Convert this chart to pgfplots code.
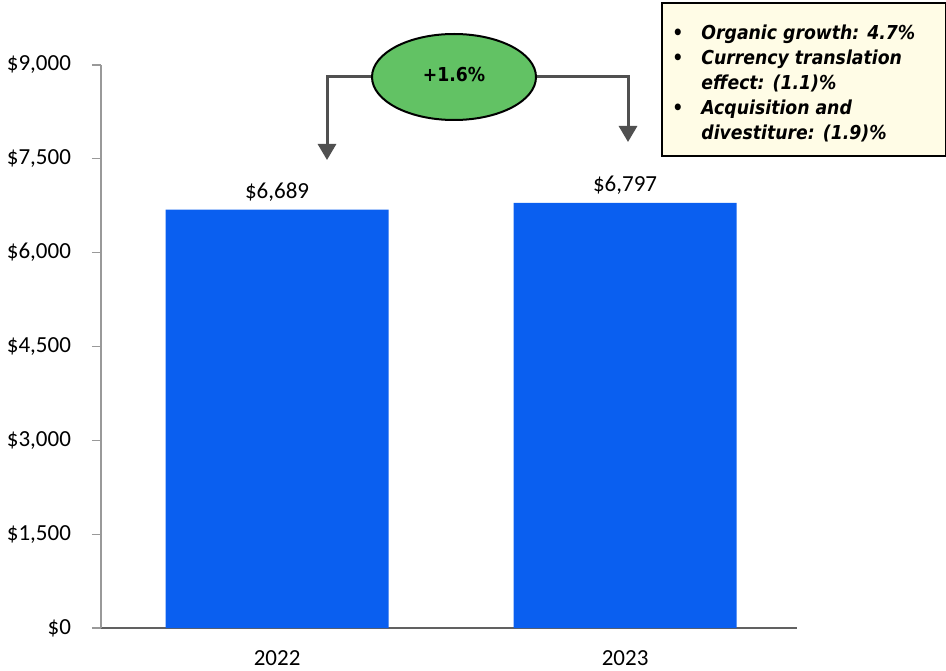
\documentclass[border=0pt]{standalone}
\usepackage{fontspec}
\setmainfont{Carlito}
\newfontfamily\boxfont{DejaVu Sans Condensed}
\usepackage{pgfplots}
\pgfplotsset{compat=1.18}
\usetikzlibrary{arrows.meta}
\definecolor{barblue}{HTML}{0A5FF0}
\definecolor{ovalgreen}{HTML}{62C264}
\definecolor{arrowgray}{HTML}{505050}
\definecolor{boxcream}{HTML}{FFFCE6}
\begin{document}
\begin{tikzpicture}
% whole picture = 946 x 670 px, 1 px = 0.5pt, origin at the axis corner (101,628)
\path[use as bounding box] (-50.5pt,-21pt) rectangle (422.5pt,314pt);
\begin{axis}[
    at={(0pt,0pt)}, anchor=south west,
    scale only axis,
    width=348pt, height=281.5pt,
    xmin=-0.506, xmax=1.494,
    ymin=0, ymax=9000,
    axis x line*=bottom,
    axis y line*=left,
    x axis line style={draw=black!62, line width=1pt},
    y axis line style={draw=black!40, line width=0.6pt},
    ytick={0,1500,...,9000},
    xtick=data,
    xticklabels={2022,2023},
    x tick style={draw=none},
    y tick style={draw=black!40, line width=0.6pt},
    tick align=outside,
    major tick length=4.5pt,
    /pgf/number format/.cd, 1000 sep={,}, assume math mode=true,
    /pgfplots/.cd,
    yticklabel={\$\pgfmathprintnumber{\tick}},
    ticklabel style={font=\fontsize{11.5}{13}\selectfont},
    yticklabel style={xshift=-7pt},
    xticklabel style={yshift=-3pt},
    ybar, bar width=111.5pt,
    nodes near coords={\$\pgfmathprintnumber{\pgfplotspointmeta}},
    nodes near coords style={font=\fontsize{11.5}{13}\selectfont, yshift=0.5pt},
    point meta=y,
]
\addplot[fill=barblue, draw=none] coordinates {(0,6689) (1,6797)};
\end{axis}
\begin{scope}[x=0.5pt, y=0.5pt]
  \draw[arrowgray, line width=1.5pt, -{Triangle[length=8pt,width=9pt]}]
    (271,551) -- (226,551) -- (226,468);
  \draw[arrowgray, line width=1.5pt, -{Triangle[length=8pt,width=9pt]}]
    (435,551) -- (527,551) -- (527,486);
  \draw[fill=ovalgreen, draw=black, line width=1pt] (353,551) ellipse [x radius=82, y radius=43];
  \node[font=\boxfont\bfseries\fontsize{9.6}{11}\selectfont] at (353,553) {+1.6\%};
  \draw[fill=boxcream, draw=black, line width=1pt] (561,472) rectangle (845,625);
  \node[anchor=north west, inner sep=0pt, align=left,
        font=\boxfont\bfseries\itshape\fontsize{9.6}{12.5}\selectfont]
    at (571,603) {%
      \textbullet\hspace{9pt}Organic growth: 4.7\%\\
      \textbullet\hspace{9pt}Currency translation\\
      \phantom{\textbullet}\hspace{9pt}effect: (1.1)\%\\
      \textbullet\hspace{9pt}Acquisition and\\
      \phantom{\textbullet}\hspace{9pt}divestiture: (1.9)\%};
\end{scope}
\end{tikzpicture}
\end{document}
